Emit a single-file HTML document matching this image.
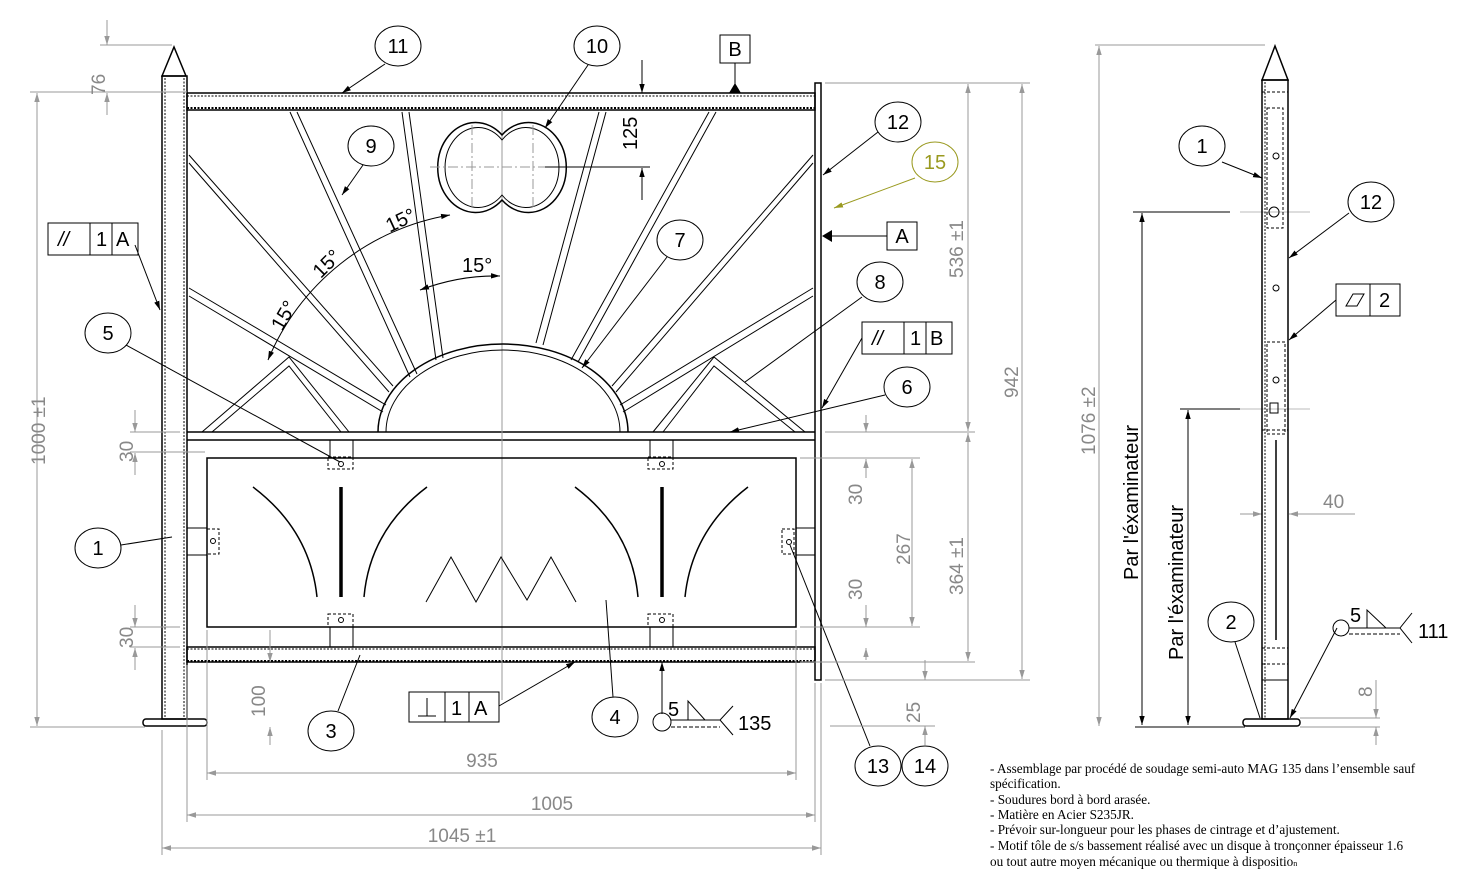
<!DOCTYPE html>
<html><head><meta charset="utf-8"><style>
html,body{margin:0;padding:0;background:#fff;}
svg{display:block;}
.k{stroke:#000;fill:none;stroke-width:1.5}
.t{stroke:#000;fill:none;stroke-width:1}
.g{stroke:#999;fill:none;stroke-width:1}
.d{stroke:#999;fill:none;stroke-width:1;stroke-dasharray:10 3 2 3}
.gt{fill:#888;font-family:"Liberation Sans",sans-serif;font-size:19px}
.bt{fill:#000;font-family:"Liberation Sans",sans-serif;font-size:20px}
.nt{font-family:"Liberation Serif",serif;font-size:13.2px;fill:#000}
</style></head><body>
<svg width="1474" height="887" viewBox="0 0 1474 887" xmlns="http://www.w3.org/2000/svg">
<defs>
<marker id="a" viewBox="0 0 10 10" refX="10" refY="5" markerWidth="9" markerHeight="9" orient="auto-start-reverse"><path d="M0,2 L10,5 L0,8z" fill="#000"/></marker>
<marker id="ag" viewBox="0 0 10 10" refX="10" refY="5" markerWidth="9" markerHeight="9" orient="auto-start-reverse"><path d="M0,2 L10,5 L0,8z" fill="#999"/></marker>
<marker id="ao" viewBox="0 0 10 10" refX="10" refY="5" markerWidth="9" markerHeight="9" orient="auto-start-reverse"><path d="M0,2 L10,5 L0,8z" fill="#9a9a20"/></marker>
</defs>

<!-- LEFT POST -->
<path class="k" d="M162,76 L174,47 L186,76 Z"/>
<rect class="k" x="162" y="76" width="25" height="643"/>
<line x1="165" y1="78" x2="165" y2="718" stroke="#000" stroke-dasharray="2 1.5"/>
<line x1="184" y1="78" x2="184" y2="718" stroke="#000" stroke-dasharray="2 1.5"/>
<rect class="k" x="143" y="719" width="64" height="7" rx="3"/>

<!-- TOP RAIL -->
<rect class="k" x="187" y="93" width="628" height="17"/>
<line x1="187" y1="96" x2="815" y2="96" stroke="#000" stroke-dasharray="2 1.5"/>
<line x1="187" y1="108" x2="815" y2="108" stroke="#000" stroke-dasharray="2 1.5" stroke-width="2"/>
<!-- RIGHT FLAT -->
<rect class="k" x="815" y="83" width="6" height="597"/>
<!-- MID RAIL -->
<line class="k" x1="187" y1="432" x2="815" y2="432" stroke-width="2"/>
<line class="k" x1="187" y1="440" x2="815" y2="440"/>
<!-- BOTTOM RAIL -->
<rect class="k" x="187" y="647" width="628" height="15"/>
<line x1="187" y1="649" x2="815" y2="649" stroke="#000" stroke-dasharray="2 1.5"/>
<line x1="187" y1="661" x2="815" y2="661" stroke="#000" stroke-dasharray="2 1.5" stroke-width="2"/>

<line class="g" x1="502" y1="110" x2="502" y2="700" stroke="#ccc"/>

<!-- RAYS -->
<g class="t">
<path d="M290,112 L410,377 M297,112 L417,374"/>
<path d="M402,112 L436,360 M409,112 L443,358"/>
<path d="M599,112 L536,343 M606,112 L543,345"/>
<path d="M709,112 L571,360 M716,112 L578,362"/>
<path d="M189,155 L393,386 M189,163 L389,392"/>
<path d="M813,155 L612,386 M813,163 L616,392"/>
<path d="M189,288 L386,405 M189,296 L383,412"/>
<path d="M813,288 L620,405 M813,296 L623,412"/>
<path d="M202,432 L289,357 L349,432 M212,432 L289,366 L341,432"/>
<path d="M653,432 L714,357 L805,432 M663,432 L714,366 L795,432"/>
</g>
<path class="k" d="M378,432 A125,88 0 0 1 628,432"/>
<path class="t" d="M386,432 A117,82 0 0 1 620,432"/>
<g class="t">
<path d="M502,135 A38,45 0 1 0 502,200 A38,45 0 1 0 502,135Z" stroke-width="1.5"/>
<path d="M502,140 A33,40 0 1 0 502,195 A33,40 0 1 0 502,140Z"/>
</g>
<line class="d" x1="430" y1="167" x2="575" y2="167"/>
<line class="d" x1="472" y1="125" x2="472" y2="210"/>
<line class="d" x1="533" y1="125" x2="533" y2="210"/>

<path class="t" d="M268,360 A240,240 0 0 1 450,215" marker-start="url(#a)" marker-end="url(#a)"/>
<path class="t" d="M420,290 Q460,275 500,276" marker-start="url(#a)" marker-end="url(#a)"/>
<text class="bt" x="270" y="325" transform="rotate(-60 282 318)">15°</text>
<text class="bt" x="312" y="272" transform="rotate(-45 325 265)">15°</text>
<text class="bt" x="385" y="228" transform="rotate(-25 398 220)">15°</text>
<text class="bt" x="462" y="272">15°</text>

<!-- PANEL -->
<rect class="k" x="207" y="458" width="589" height="169"/>
<g class="k" stroke-width="3">
<path d="M253,487 Q310,530 317,597"/>
<path d="M364,597 Q370,530 427,487"/>
<path d="M575,487 Q632,530 638,597"/>
<path d="M685,597 Q692,530 748,487"/>
</g>
<line x1="341" y1="487" x2="341" y2="597" stroke="#000" stroke-width="3.5"/>
<line x1="662" y1="487" x2="662" y2="597" stroke="#000" stroke-width="3.5"/>
<path class="t" stroke-width="3" d="M426,602 L451,557 L476,602 L501,557 L527,600 L551,557 L576,602"/>
<g class="t">
<rect x="330" y="440" width="23" height="18"/><rect x="650" y="440" width="23" height="18"/>
<rect x="330" y="627" width="23" height="20"/><rect x="650" y="627" width="23" height="20"/>
<rect x="187" y="528" width="20" height="27"/><rect x="796" y="528" width="19" height="27"/>
</g>
<g class="t" stroke-dasharray="3 2">
<rect x="328" y="457" width="25" height="12"/><rect x="648" y="457" width="25" height="12"/>
<rect x="328" y="614" width="25" height="13"/><rect x="648" y="614" width="25" height="13"/>
<rect x="207" y="529" width="12" height="25"/><rect x="782" y="529" width="12" height="25"/>
</g>
<g fill="none" stroke="#000"><circle cx="341" cy="464" r="2.5"/><circle cx="662" cy="464" r="2.5"/><circle cx="341" cy="620" r="2.5"/><circle cx="662" cy="620" r="2.5"/><circle cx="213" cy="541" r="2.5"/><circle cx="789" cy="542" r="2.5"/></g>

<!-- BALLOONS -->
<g class="t" fill="#fff">
<ellipse cx="398" cy="46" rx="23" ry="20"/>
<ellipse cx="597" cy="46" rx="23" ry="20"/>
<ellipse cx="898" cy="122" rx="23" ry="20"/>
<ellipse cx="371" cy="146" rx="23" ry="20"/>
<ellipse cx="680" cy="240" rx="23" ry="20"/>
<ellipse cx="880" cy="282" rx="23" ry="20"/>
<ellipse cx="108" cy="333" rx="23" ry="20"/>
<ellipse cx="907" cy="387" rx="23" ry="20"/>
<ellipse cx="98" cy="548" rx="23" ry="20"/>
<ellipse cx="331" cy="731" rx="23" ry="20"/>
<ellipse cx="615" cy="717" rx="23" ry="20"/>
<ellipse cx="878" cy="766" rx="23" ry="20"/>
<ellipse cx="925" cy="766" rx="23" ry="20"/>
<ellipse cx="1202" cy="146" rx="23" ry="20"/>
<ellipse cx="1371" cy="202" rx="23" ry="20"/>
<ellipse cx="1231" cy="622" rx="23" ry="20"/>
</g>
<ellipse cx="935" cy="162" rx="23" ry="20" fill="none" stroke="#9a9a20"/>
<g class="bt" text-anchor="middle">
<text x="398" y="53">11</text><text x="597" y="53">10</text><text x="898" y="129">12</text>
<text x="371" y="153">9</text><text x="680" y="247">7</text><text x="880" y="289">8</text>
<text x="108" y="340">5</text><text x="907" y="394">6</text><text x="98" y="555">1</text>
<text x="331" y="738">3</text><text x="615" y="724">4</text><text x="878" y="773">13</text>
<text x="925" y="773">14</text><text x="1202" y="153">1</text><text x="1371" y="209">12</text>
<text x="1231" y="629">2</text>
<text x="935" y="169" fill="#9a9a20">15</text>
</g>
<g class="t">
<path d="M385,64 L342,93" marker-end="url(#a)"/>
<path d="M588,65 L545,128" marker-end="url(#a)"/>
<path d="M878,132 L823,175" marker-end="url(#a)"/>
<path d="M363,165 L342,195" marker-end="url(#a)"/>
<path d="M667,257 L582,368" marker-end="url(#a)"/>
<path d="M862,297 L745,382"/>
<path d="M126,345 L340,462"/>
<path d="M885,395 L730,432" marker-end="url(#a)"/>
<path d="M121,545 L172,537"/>
<path d="M338,711 L360,655"/>
<path d="M613,697 L606,600"/>
<path d="M870,746 L790,545"/>
<path d="M135,245 L160,310" marker-end="url(#a)"/>
<path d="M862,338 L822,408" marker-end="url(#a)"/>
<path d="M499,706 L575,662" marker-end="url(#a)"/>
<path d="M1222,162 L1262,178" marker-end="url(#a)"/>
<path d="M1349,213 L1289,258" marker-end="url(#a)"/>
<path d="M1336,300 L1289,340" marker-end="url(#a)"/>
<path d="M1235,642 L1260,718"/>
<path d="M1337,628 L1290,718" marker-end="url(#a)"/>
</g>
<path d="M915,178 L834,208" stroke="#9a9a20" fill="none" marker-end="url(#ao)"/>

<rect class="t" x="720" y="35" width="30" height="28"/><text class="bt" x="735" y="56" text-anchor="middle">B</text>
<line class="t" x1="735" y1="63" x2="735" y2="85"/><path d="M729,93 L735,83 L741,93Z" fill="#000"/>
<rect class="t" x="887" y="222" width="30" height="28"/><text class="bt" x="902" y="243" text-anchor="middle">A</text>
<line class="t" x1="887" y1="236" x2="830" y2="236"/><path d="M822,236 L832,230 L832,242Z" fill="#000"/>

<g class="t"><rect x="48" y="223" width="90" height="32"/><line x1="90" y1="223" x2="90" y2="255"/><line x1="112" y1="223" x2="112" y2="255"/>
<rect x="862" y="322" width="90" height="32"/><line x1="904" y1="322" x2="904" y2="354"/><line x1="926" y1="322" x2="926" y2="354"/>
<rect x="409" y="692" width="90" height="30"/><line x1="445" y1="692" x2="445" y2="722"/><line x1="469" y1="692" x2="469" y2="722"/>
<rect x="1336" y="284" width="64" height="32"/><line x1="1370" y1="284" x2="1370" y2="316"/>
<path d="M1346,306 L1353,294 L1364,294 L1357,306Z"/>
</g>
<g class="bt"><text x="58" y="246" font-style="italic">//</text><text x="96" y="246">1</text><text x="116" y="246">A</text>
<text x="872" y="345" font-style="italic">//</text><text x="910" y="345">1</text><text x="930" y="345">B</text>
<text x="451" y="715">1</text><text x="474" y="715">A</text>
<text x="1379" y="307">2</text></g>
<path class="t" d="M418,716 L436,716 M427,716 L427,698"/>

<g class="g">
<line x1="100" y1="45" x2="172" y2="45"/><line x1="30" y1="92" x2="187" y2="92"/>
<line x1="107" y1="20" x2="107" y2="45" marker-end="url(#ag)"/><line x1="107" y1="115" x2="107" y2="93" marker-end="url(#ag)"/>
<line x1="37" y1="93" x2="37" y2="726" marker-start="url(#ag)" marker-end="url(#ag)"/>
<line x1="30" y1="727" x2="145" y2="727"/>
<line x1="130" y1="432" x2="180" y2="432"/><line x1="130" y1="452" x2="205" y2="452"/>
<line x1="135" y1="410" x2="135" y2="432" marker-end="url(#ag)"/><line x1="135" y1="475" x2="135" y2="453" marker-end="url(#ag)"/>
<line x1="130" y1="627" x2="180" y2="627"/><line x1="130" y1="647" x2="180" y2="647"/>
<line x1="135" y1="605" x2="135" y2="627" marker-end="url(#ag)"/><line x1="135" y1="670" x2="135" y2="648" marker-end="url(#ag)"/>
<line x1="270" y1="630" x2="270" y2="662" marker-end="url(#ag)"/><line x1="270" y1="745" x2="270" y2="727" marker-end="url(#ag)"/>
<line x1="207" y1="630" x2="207" y2="780"/><line x1="796" y1="630" x2="796" y2="780"/>
<line x1="207" y1="773" x2="796" y2="773" marker-start="url(#ag)" marker-end="url(#ag)"/>
<line x1="187" y1="665" x2="187" y2="822"/><line x1="815" y1="683" x2="815" y2="822"/>
<line x1="187" y1="815" x2="815" y2="815" marker-start="url(#ag)" marker-end="url(#ag)"/>
<line x1="162" y1="730" x2="162" y2="855"/><line x1="821" y1="683" x2="821" y2="855"/>
<line x1="162" y1="848" x2="821" y2="848" marker-start="url(#ag)" marker-end="url(#ag)"/>
<line x1="825" y1="83" x2="1030" y2="83"/><line x1="825" y1="432" x2="975" y2="432"/><line x1="825" y1="680" x2="1030" y2="680"/>
<line x1="968" y1="84" x2="968" y2="431" marker-start="url(#ag)" marker-end="url(#ag)"/>
<line x1="1022" y1="84" x2="1022" y2="679" marker-start="url(#ag)" marker-end="url(#ag)"/>
<line x1="968" y1="433" x2="968" y2="661" marker-start="url(#ag)" marker-end="url(#ag)"/>
<line x1="800" y1="662" x2="975" y2="662"/>
<line x1="800" y1="458" x2="920" y2="458"/><line x1="800" y1="627" x2="920" y2="627"/>
<line x1="912" y1="459" x2="912" y2="626" marker-start="url(#ag)" marker-end="url(#ag)"/>
<line x1="866" y1="415" x2="866" y2="432" marker-end="url(#ag)"/><line x1="866" y1="478" x2="866" y2="459" marker-end="url(#ag)"/>
<line x1="866" y1="605" x2="866" y2="627" marker-end="url(#ag)"/><line x1="866" y1="660" x2="866" y2="648" marker-end="url(#ag)"/>
<line x1="925" y1="660" x2="925" y2="680" marker-end="url(#ag)"/><line x1="925" y1="745" x2="925" y2="726" marker-end="url(#ag)"/>
<line x1="830" y1="726" x2="935" y2="726"/>
<line x1="1095" y1="45" x2="1265" y2="45"/>
<line x1="1099" y1="46" x2="1099" y2="726" marker-start="url(#ag)" marker-end="url(#ag)"/>
<line x1="1240" y1="514" x2="1262" y2="514" marker-end="url(#ag)"/><line x1="1355" y1="514" x2="1289" y2="514" marker-end="url(#ag)"/>
<line x1="1300" y1="718" x2="1380" y2="718"/><line x1="1300" y1="727" x2="1380" y2="727"/>
<line x1="1376" y1="680" x2="1376" y2="718" marker-end="url(#ag)"/><line x1="1376" y1="745" x2="1376" y2="727" marker-end="url(#ag)"/>
<line x1="1240" y1="212" x2="1310" y2="212" stroke="#bbb"/><line x1="1240" y1="409" x2="1310" y2="409" stroke="#bbb"/>
</g>
<g class="t">
<line x1="642" y1="60" x2="642" y2="93" marker-end="url(#a)"/><line x1="642" y1="200" x2="642" y2="168" marker-end="url(#a)"/>
<line x1="545" y1="167" x2="650" y2="167"/>
<line x1="1133" y1="212" x2="1230" y2="212"/><line x1="1142" y1="213" x2="1142" y2="725" marker-start="url(#a)" marker-end="url(#a)"/>
<line x1="1180" y1="409" x2="1240" y2="409"/><line x1="1188" y1="410" x2="1188" y2="725" marker-start="url(#a)" marker-end="url(#a)"/>
<line x1="1135" y1="727" x2="1245" y2="727"/>
</g>
<g class="gt">
<text transform="translate(105,95) rotate(-90)">76</text>
<text transform="translate(45,465) rotate(-90)">1000 ±1</text>
<text transform="translate(133,462) rotate(-90)">30</text>
<text transform="translate(133,648) rotate(-90)">30</text>
<text transform="translate(265,717) rotate(-90)">100</text>
<text x="482" y="767" text-anchor="middle">935</text>
<text x="552" y="810" text-anchor="middle">1005</text>
<text x="462" y="842" text-anchor="middle">1045 ±1</text>
<text transform="translate(963,278) rotate(-90)">536 ±1</text>
<text transform="translate(1018,398) rotate(-90)">942</text>
<text transform="translate(862,505) rotate(-90)">30</text>
<text transform="translate(910,565) rotate(-90)">267</text>
<text transform="translate(963,595) rotate(-90)">364 ±1</text>
<text transform="translate(862,600) rotate(-90)">30</text>
<text transform="translate(920,723) rotate(-90)">25</text>
<text transform="translate(1095,455) rotate(-90)">1076 ±2</text>
<text x="1323" y="508">40</text>
<text transform="translate(1372,697) rotate(-90)">8</text>
</g>
<text class="bt" transform="translate(637,150) rotate(-90)">125</text>
<text class="bt" transform="translate(1138,580) rotate(-90)">Par l'éxaminateur</text>
<text class="bt" transform="translate(1183,660) rotate(-90)">Par l'éxaminateur</text>

<g class="t">
<line x1="662" y1="662" x2="662" y2="714" marker-start="url(#a)"/>
<circle cx="662" cy="722" r="9"/>
<line x1="671" y1="720" x2="720" y2="720"/><line x1="671" y1="727" x2="720" y2="727" stroke-dasharray="4 2"/>
<path d="M688,720 L688,701 L705,720"/><path d="M733,706 L720,720 L733,735"/>
<circle cx="1341" cy="628" r="8"/>
<line x1="1349" y1="628" x2="1400" y2="628"/><line x1="1349" y1="634" x2="1400" y2="634" stroke-dasharray="4 2"/>
<path d="M1367,628 L1367,610 L1386,628"/><path d="M1412,613 L1400,628 L1412,643"/>
</g>
<text class="bt" x="668" y="716">5</text><text class="bt" x="738" y="730">135</text>
<text class="bt" x="1350" y="622">5</text><text class="bt" x="1418" y="638">111</text>

<path class="k" d="M1262,80 L1275,46 L1288,80 Z"/>
<rect class="k" x="1262" y="80" width="26" height="639"/>
<line x1="1265" y1="82" x2="1265" y2="718" stroke="#000" stroke-dasharray="2 1.5"/>
<g class="t" stroke-dasharray="3 2">
<rect x="1267" y="108" width="16" height="120"/><rect x="1267" y="342" width="18" height="92"/>
<line x1="1262" y1="92" x2="1288" y2="92"/><line x1="1262" y1="430" x2="1288" y2="430"/>
<line x1="1262" y1="648" x2="1288" y2="648"/><line x1="1262" y1="664" x2="1288" y2="664"/>
</g>
<line class="t" x1="1262" y1="680" x2="1288" y2="680"/>
<line x1="1276" y1="440" x2="1276" y2="640" stroke="#000" stroke-width="1.5"/>
<g fill="none" stroke="#000"><circle cx="1276" cy="156" r="3"/><circle cx="1274" cy="212" r="5"/><circle cx="1276" cy="288" r="3"/><circle cx="1276" cy="380" r="3"/><rect x="1270" y="403" width="8" height="10"/></g>
<rect class="k" x="1243" y="719" width="57" height="7" rx="3"/>

<g class="nt">
<text x="990" y="773">- Assemblage par procédé de soudage semi-auto MAG 135 dans l’ensemble sauf</text>
<text x="990" y="788">spécification.</text>
<text x="990" y="804">- Soudures bord à bord arasée.</text>
<text x="990" y="819">- Matière en Acier S235JR.</text>
<text x="990" y="834">- Prévoir sur-longueur pour les phases de cintrage et d’ajustement.</text>
<text x="990" y="850">- Motif tôle de s/s bassement réalisé avec un disque à tronçonner épaisseur 1.6</text>
<text x="990" y="866">ou tout autre moyen mécanique ou thermique à dispositio<tspan font-size="8">n</tspan></text>
</g>
</svg>
</body></html>
